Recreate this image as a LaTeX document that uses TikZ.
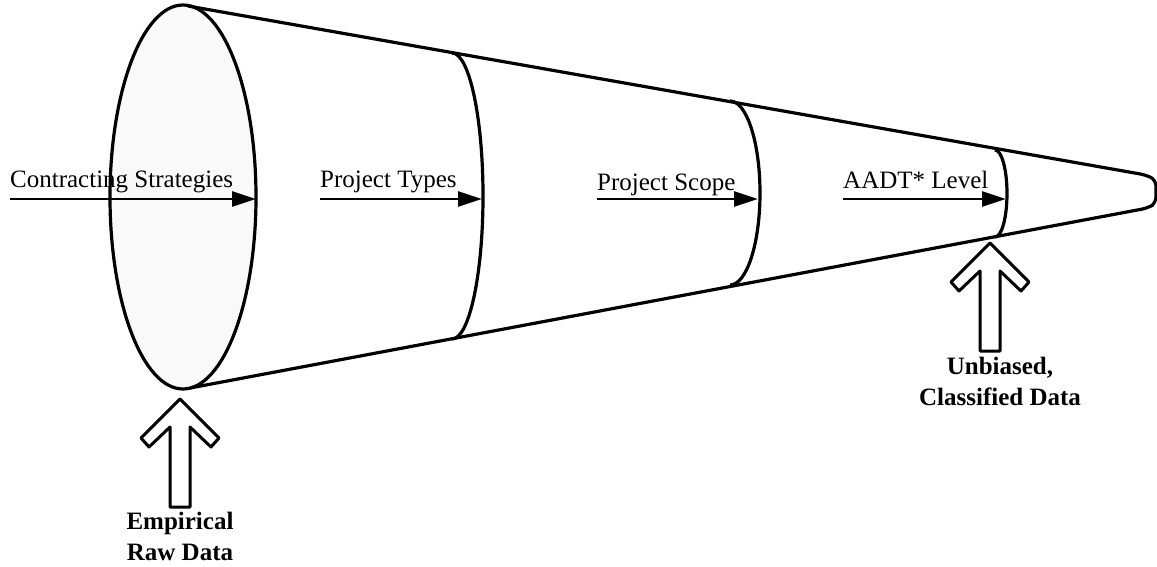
\documentclass[tikz,border=0pt]{standalone}
\usepackage{fontspec}
\setmainfont{Liberation Serif}
\usetikzlibrary{arrows.meta,positioning,shapes.geometric}

\begin{document}
\begin{tikzpicture}[x = 1pt, y = -1pt, line join = round,
cone/.style = {line width = 3.2pt},
flow/.style = {-{Triangle[length = 24pt, width = 15pt]}, line width = 2.8pt},
flowlabel/.style = {anchor = base west, inner sep = 0pt, font = \fontsize{25}{28}\selectfont},
result/.style = {align = center, inner sep = 0pt, font = \fontsize{25}{31}\selectfont\bfseries},
bigarrow/.pic = {\draw[line width = 3pt, fill = white]
  (0,0) -- (-39,39) -- (-31,48) -- (-10,28) -- (-10,108) -- (10,108)
  -- (10,28) -- (31,48) -- (39,39) -- cycle;}]

\useasboundingbox (0,0) rectangle (1157,567);

% front face and the outline of the cone
\node[ellipse, draw, cone, fill = gray!5, minimum width = 146pt, minimum height = 384pt,
  inner sep = 0pt] (face) at (183,197) {};
\coordinate (top0) at (188,6);
\coordinate (bot0) at (190,388);
\coordinate (top1) at (1146,175);
\coordinate (bot1) at (1148,208);
\draw[cone, rounded corners = 6pt] (top0) -- (top1) -- (1156,180) -- (1156,203) -- (bot1) -- (bot0);

% slices
\draw[cone] (452,53) arc[start angle = -90, end angle = 90, x radius = 31, y radius = 143];
\draw[cone] (730,101) arc[start angle = -90, end angle = 90, x radius = 30, y radius = 92];
\draw[cone] (995,150) arc[start angle = -90, end angle = 90, x radius = 12, y radius = 43.5];

% filters
\coordinate (s1) at (10,199);   \coordinate (e1) at (256,199);
\coordinate (s2) at (320,199);  \coordinate (e2) at (482,199);
\coordinate (s3) at (597,199);  \coordinate (e3) at (758,199);
\coordinate (s4) at (843,199);  \coordinate (e4) at (1006,199);

\node[flowlabel] (l1) at ([yshift = 11pt]s1) {Contracting Strategies};
\node[flowlabel] (l2) at ([yshift = 11pt]s2) {Project Types};
\node[flowlabel] (l3) at ([yshift = 9pt]s3) {Project Scope};
\node[flowlabel] (l4) at ([yshift = 10pt]s4) {AADT* Level};

\draw[flow] (s1) -- (e1);
\draw[flow] (s2) -- (e2);
\draw[flow] (s3) -- (e3);
\draw[flow] (s4) -- (e4);

% input and output
\pic at (180,399) {bigarrow};
\pic at (990,243) {bigarrow};
\node[result, anchor = north] (raw) at (180,512) {Empirical\\Raw Data};
\node[result, anchor = north] (clean) at (1000,357) {Unbiased,\\Classified Data};

\end{tikzpicture}
\end{document}
